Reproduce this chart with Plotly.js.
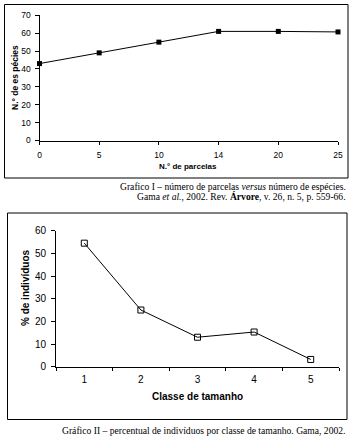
<!DOCTYPE html>
<html>
<head>
<meta charset="utf-8">
<script src="https://cdn.plot.ly/plotly-3.0.1.min.js"></script>
<style>
  html, body { margin: 0; padding: 0; background: #fff; }
  #chart { width: 350px; height: 438px; }
</style>
</head>
<body>
<div id="chart"></div>
<script>
// Chart I data
const parcelas = ["0", "5", "10", "14", "20", "25"];
const especies = [43, 49, 55, 61, 61, 60.7];
// Chart II data
const classes = ["1", "2", "3", "4", "5"];
const percentual = [54.5, 25, 13, 15.3, 3.2];

const W = 350, H = 438;
const px = x => x / W;
const py = y => 1 - y / H;

const sans = "Liberation Sans, Arial, sans-serif";
const serif = "Liberation Serif, Times New Roman, serif";

const traces = [
  {
    x: parcelas, y: especies, xaxis: "x", yaxis: "y",
    type: "scatter", mode: "lines+markers",
    line: { color: "#000", width: 1 },
    marker: { symbol: "square", size: 5, color: "#000" },
    cliponaxis: false
  },
  {
    x: classes, y: percentual, xaxis: "x2", yaxis: "y2",
    type: "scatter", mode: "lines+markers",
    line: { color: "#000", width: 1 },
    marker: { symbol: "square-open", size: 6, color: "#000", line: { width: 1, color: "#000" } },
    cliponaxis: false
  }
];

const axBase = {
  showgrid: false, zeroline: false, showline: true,
  linecolor: "#000", linewidth: 1, ticks: "outside",
  tickcolor: "#000", tickwidth: 1
};

const layout = {
  width: W, height: H,
  margin: { l: 0, r: 0, t: 0, b: 0 },
  paper_bgcolor: "#fff", plot_bgcolor: "#fff",
  showlegend: false,
  xaxis: Object.assign({}, axBase, {
    type: "category", domain: [px(39.5), px(338)], range: [0, 5],
    anchor: "y", ticklen: 3, ticklabelstandoff: 3,
    tickfont: { family: sans, size: 8.5, color: "#000" }
  }),
  yaxis: Object.assign({}, axBase, {
    domain: [py(140.5), py(15.3)], range: [0, 70], dtick: 10,
    anchor: "x", ticklen: 4, ticklabelstandoff: 2,
    tickfont: { family: sans, size: 8.5, color: "#000" }
  }),
  xaxis2: Object.assign({}, axBase, {
    type: "category", domain: [px(56), px(339)], range: [-0.5, 4.5],
    anchor: "y2", tickson: "boundaries", ticklen: 3, ticklabelstandoff: 3,
    tickfont: { family: sans, size: 10, color: "#000" }
  }),
  yaxis2: Object.assign({}, axBase, {
    domain: [py(366.7), py(230.7)], range: [0, 60], dtick: 10,
    anchor: "x2", ticklen: 4, ticklabelstandoff: 3,
    tickfont: { family: sans, size: 10, color: "#000" }
  }),
  shapes: [
    { type: "rect", xref: "paper", yref: "paper",
      x0: px(4.5), x1: px(348), y0: py(178), y1: py(4.5),
      line: { color: "#000", width: 1 } },
    { type: "rect", xref: "paper", yref: "paper",
      x0: px(7.5), x1: px(347), y0: py(419.5), y1: py(213),
      line: { color: "#000", width: 1 } }
  ],
  annotations: [
    { text: "<b>N.° de parcelas</b>", xref: "paper", yref: "paper",
      x: px(188), y: py(166.5), xanchor: "center", yanchor: "middle", showarrow: false,
      font: { family: sans, size: 8, color: "#000" } },
    { text: "<b>N.° de es pécies</b>", xref: "paper", yref: "paper",
      x: px(15), y: py(78), xanchor: "center", yanchor: "middle", showarrow: false, textangle: -90,
      font: { family: sans, size: 8.5, color: "#000" } },
    { text: "Grafico I – número de parcelas <i>versus</i> número de espécies.", xref: "paper", yref: "paper",
      x: px(347.5), y: py(186.3), xanchor: "right", yanchor: "middle", showarrow: false,
      font: { family: serif, size: 9.6, color: "#000" } },
    { text: "Gama <i>et al.</i>, 2002. Rev. <b>Árvore</b>, v. 26, n. 5, p. 559-66.", xref: "paper", yref: "paper",
      x: px(347.5), y: py(196.3), xanchor: "right", yanchor: "middle", showarrow: false,
      font: { family: serif, size: 9.6, color: "#000" } },
    { text: "<b>Classe de tamanho</b>", xref: "paper", yref: "paper",
      x: px(197.5), y: py(396.7), xanchor: "center", yanchor: "middle", showarrow: false,
      font: { family: sans, size: 10, color: "#000" } },
    { text: "<b>% de indivíduos</b>", xref: "paper", yref: "paper",
      x: px(25), y: py(288), xanchor: "center", yanchor: "middle", showarrow: false, textangle: -90,
      font: { family: sans, size: 10, color: "#000" } },
    { text: "Gráfico II – percentual de indivíduos por classe de tamanho. Gama, 2002.", xref: "paper", yref: "paper",
      x: px(347), y: py(430.5), xanchor: "right", yanchor: "middle", showarrow: false,
      font: { family: serif, size: 9.6, color: "#000" } }
  ]
};

Plotly.newPlot("chart", traces, layout, { staticPlot: true, displayModeBar: false });
</script>
</body>
</html>
